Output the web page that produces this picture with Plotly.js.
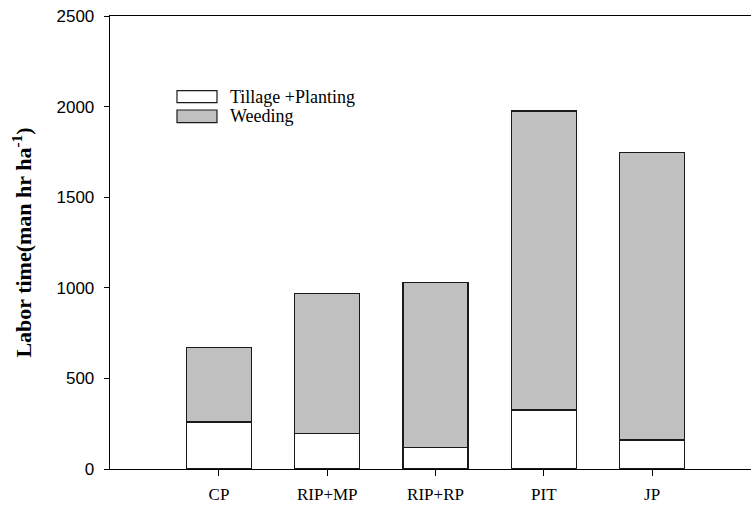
<!DOCTYPE html>
<html>
<head>
<meta charset="utf-8">
<script src="https://cdn.plot.ly/plotly-3.0.1.min.js"></script>
<style>html,body{margin:0;padding:0;background:#fff;}#chart{width:751px;height:506px;}</style>
</head>
<body>
<div id="chart"></div>
<script>
const categories = ['CP', 'RIP+MP', 'RIP+RP', 'PIT', 'JP'];
const tillagePlanting = [259, 197, 120, 326, 160];
const weeding = [410, 770, 908, 1650, 1588];
const seriesNames = ['Tillage +Planting', 'Weeding'];
const yTicks = [0, 500, 1000, 1500, 2000, 2500];

const serif = 'Liberation Serif, Times New Roman, serif';
const sans = 'Liberation Sans, Arial, sans-serif';
const barLine = {color: '#1a1a1a', width: 1.2};
const fills = ['#ffffff', '#c0c0c0'];

const traces = [
  {type: 'bar', x: categories, y: tillagePlanting, name: seriesNames[0], width: 0.6,
   marker: {color: fills[0], line: barLine}, showlegend: false, hoverinfo: 'none'},
  {type: 'bar', x: categories, y: weeding, name: seriesNames[1], width: 0.6,
   marker: {color: fills[1], line: barLine}, showlegend: false, hoverinfo: 'none'}
];

// manual legend (swatch sizes as in reference)
const legendShapes = [];
const legendAnn = [];
const swY = [[0.8086, 0.8351], [0.7645, 0.7925]];
const txtY = [0.822, 0.7786];
for (let i = 0; i < 2; i++) {
  legendShapes.push({type: 'rect', xref: 'paper', yref: 'paper', x0: 0.1045, x1: 0.1669,
    y0: swY[i][0], y1: swY[i][1], fillcolor: fills[i], line: {color: '#1a1a1a', width: 1.2}});
  legendAnn.push({xref: 'paper', yref: 'paper', x: 0.184, y: txtY[i], xanchor: 'left', yanchor: 'middle',
    text: seriesNames[i], showarrow: false, font: {family: serif, size: 18, color: '#000', weight: 'normal'}});
}

const layout = {
  width: 751, height: 506,
  margin: {l: 110, r: 0, t: 16, b: 37, pad: 0},
  paper_bgcolor: '#fff', plot_bgcolor: '#fff',
  barmode: 'stack',
  showlegend: false,
  xaxis: {
    type: 'category', range: [-1.006, 4.913],
    showline: true, linecolor: '#000', linewidth: 1.3, mirror: true,
    ticks: 'outside', ticklen: 6, tickwidth: 1, tickcolor: '#000',
    showgrid: false, zeroline: false,
    tickfont: {family: serif, size: 17, color: '#000', weight: 'normal'},
    ticklabelstandoff: 3
  },
  yaxis: {
    range: [0, 2500], tickvals: yTicks, ticktext: yTicks.map(String),
    showline: true, linecolor: '#000', linewidth: 1.3,
    ticks: 'outside', ticklen: 5, tickwidth: 1, tickcolor: '#000',
    showgrid: false, zeroline: false,
    tickfont: {family: sans, size: 17, color: '#000', weight: 'normal'},
    ticklabelstandoff: 6,
    title: {text: 'Labor time(man hr ha<sup>-1</sup>)', standoff: 18,
            font: {family: serif, size: 22, color: '#000', weight: 'bold'}}
  },
  shapes: legendShapes,
  annotations: legendAnn
};

Plotly.newPlot('chart', traces, layout, {displayModeBar: false, staticPlot: true});
</script>
</body>
</html>
